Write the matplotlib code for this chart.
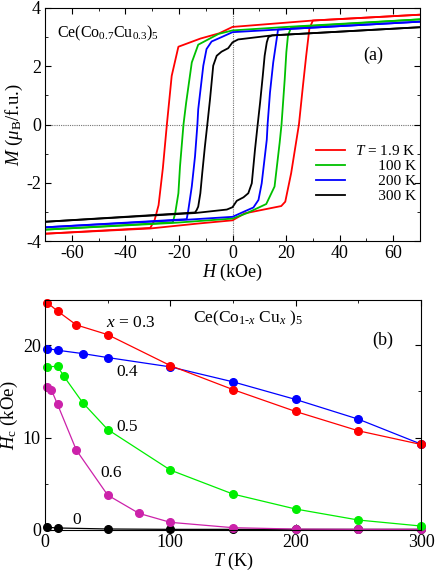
import numpy as np
import matplotlib
matplotlib.use("Agg")
import matplotlib.pyplot as plt
from matplotlib.ticker import MultipleLocator

plt.rcParams['font.family'] = ['Liberation Serif', 'DejaVu Serif']
plt.rcParams['mathtext.fontset'] = 'custom'
plt.rcParams['mathtext.rm'] = 'Liberation Serif'
plt.rcParams['mathtext.it'] = 'Liberation Serif:italic'
plt.rcParams['axes.unicode_minus'] = False
plt.rcParams['font.size'] = 12

# ─── (a) lazos M(H), x = 0.3 ────────────────────────────────────────────────
# rama descendente (H de +70 a -70) y rama ascendente (H de -70 a +70)
H_bajada_19 = [70, 30, 0, -5, -12, -20.2, -22.7, -24.5, -26.0, -27.6, -29.1, -30.7, -70]
M_bajada_19 = [3.77, 3.57, 3.35, 3.13, 2.95, 2.67, 1.67, 0.0, -1.5, -2.77, -3.29, -3.55, -3.75]
H_subida_19 = [-70, -30.7, -12.8, 0, 4.6, 18.2, 19.7, 21.9, 24.8, 26.3, 27.5, 28.7, 30.0, 70]
M_subida_19 = [-3.75, -3.57, -3.40, -3.29, -3.05, -2.80, -2.65, -1.67, 0.0, 1.33, 2.35, 3.29, 3.57, 3.77]

H_bajada_100 = [70, 21.9, 0, -5.2, -12.8, -15.2, -17.3, -18.3, -19.6, -20.2, -21.4, -22.3, -70]
M_bajada_100 = [3.61, 3.36, 3.23, 3.11, 2.74, 2.13, 0.75, 0.0, -1.44, -2.36, -3.05, -3.36, -3.61]
H_subida_100 = [-70, -22.3, 0, 5.2, 12.6, 15.7, 17.6, 18.3, 19.5, 20.1, 20.7, 21.9, 70]
M_subida_100 = [-3.61, -3.38, -3.23, -3.05, -2.73, -2.13, -0.63, 0.0, 1.56, 2.48, 3.05, 3.34, 3.61]

H_bajada_200 = [70, 17.0, 0, -4.1, -7.8, -9.7, -10.9, -12.8, -13.1, -14.0, -15.2, -16.5, -17.1, -70]
M_bajada_200 = [3.53, 3.26, 3.17, 3.00, 2.85, 2.59, 2.02, 0.52, 0.0, -1.10, -2.13, -2.94, -3.25, -3.53]
H_subida_200 = [-70, -17.1, 0, 4.1, 7.8, 9.7, 10.9, 12.8, 13.1, 14.0, 15.2, 16.5, 17.0, 70]
M_subida_200 = [-3.53, -3.27, -3.17, -3.00, -2.85, -2.59, -2.02, -0.52, 0.0, 1.10, 2.13, 2.94, 3.26, 3.53]

H_bajada_300 = [70, 14.8, 2.1, 0, -1.6, -4.1, -5.9, -7.2, -8.4, -9.4, -10.3, -11.3, -12.0, -12.8, -13.4, -14.0, -70]
M_bajada_300 = [3.34, 3.06, 2.92, 2.82, 2.62, 2.50, 2.36, 2.02, 0.86, 0.0, -0.75, -1.67, -2.36, -2.82, -2.94, -3.02, -3.34]
H_subida_300 = [-70, -14.0, -2.1, 0, 1.6, 4.1, 5.9, 7.2, 8.4, 9.4, 10.3, 11.3, 12.0, 12.8, 13.4, 14.8, 70]
M_subida_300 = [-3.34, -3.04, -2.92, -2.84, -2.62, -2.50, -2.36, -2.02, -0.86, 0.0, 0.75, 1.67, 2.36, 2.82, 3.00, 3.06, 3.34]

lazos = [
    ("$T$ = 1.9 K", "#ff0000", H_bajada_19, M_bajada_19, H_subida_19, M_subida_19),
    ("      100 K", "#00c000", H_bajada_100, M_bajada_100, H_subida_100, M_subida_100),
    ("      200 K", "#0000ff", H_bajada_200, M_bajada_200, H_subida_200, M_subida_200),
    ("      300 K", "#000000", H_bajada_300, M_bajada_300, H_subida_300, M_subida_300),
]

# ─── (b) campo coercitivo Hc(T) ─────────────────────────────────────────────
T_03 = [1.9, 10, 25, 50, 100, 150, 200, 250, 300]
Hc_03 = [24.6, 23.7, 22.2, 21.15, 17.8, 15.2, 12.83, 10.74, 9.26]
T_04 = [1.9, 10, 30, 50, 100, 150, 200, 250, 300]
Hc_04 = [19.64, 19.46, 19.1, 18.67, 17.66, 16.04, 14.13, 12.0, 9.3]
T_05 = [1.9, 10, 15, 30, 50, 100, 150, 200, 250, 300]
Hc_05 = [17.66, 17.73, 16.65, 13.8, 10.88, 6.49, 3.89, 2.27, 1.08, 0.43]
T_06 = [1.9, 5, 10, 25, 50, 75, 100, 150, 200, 250, 300]
Hc_06 = [15.5, 15.2, 13.6, 8.65, 3.78, 1.8, 0.83, 0.25, 0.1, 0.07, 0.07]
T_00 = [1.9, 10, 50, 100, 150, 200, 250, 300]
Hc_00 = [0.29, 0.22, 0.11, 0.07, 0.07, 0.07, 0.07, 0.07]

series_b = [
    (T_00, Hc_00, "#000000"),
    (T_06, Hc_06, "#cc22aa"),
    (T_05, Hc_05, "#00ee00"),
    (T_04, Hc_04, "#0000ff"),
    (T_03, Hc_03, "#ff0000"),
]


def estilo_ejes(ax):
    ax.tick_params(direction="in", which="both", top=True, right=True,
                   labelsize=13, pad=3)
    ax.tick_params(which="major", length=4.5)
    ax.tick_params(which="minor", length=2.5)


fig = plt.figure(figsize=(4.36, 5.79), dpi=100)

# panel (a)
ax1 = fig.add_axes([45 / 436, 1 - 241 / 579, 375 / 436, 233 / 579])
for etiqueta, color, hb, mb, hs, ms in lazos:
    ax1.plot(hb, mb, color=color, lw=1.3, label=etiqueta)
    ax1.plot(hs, ms, color=color, lw=1.3)
ax1.axhline(0, color="0.45", lw=0.8, ls=(0, (1, 1)), zorder=0)
ax1.axvline(0, color="0.45", lw=0.8, ls=(0, (1, 1)), zorder=0)
ax1.set_xlim(-70, 70)
ax1.set_ylim(-4, 4)
ax1.xaxis.set_major_locator(MultipleLocator(20))
ax1.xaxis.set_minor_locator(MultipleLocator(10))
ax1.yaxis.set_major_locator(MultipleLocator(2))
ax1.yaxis.set_minor_locator(MultipleLocator(1))
estilo_ejes(ax1)
ax1.set_xlabel("$H$ (kOe)", fontsize=13, labelpad=0)
ax1.set_ylabel(r"$M$ ($\mu_\mathrm{B}$/f.u.)", fontsize=13.5, labelpad=1)
ax1.text(0.032, 0.893, r"Ce(Co$_{0.7}$Cu$_{0.3}$)$_5$", transform=ax1.transAxes,
         fontsize=11.5, va="center")
ax1.text(0.848, 0.798, "(a)", transform=ax1.transAxes, fontsize=13, va="center")
ax1.legend(loc="upper left", bbox_to_anchor=(0.707, 0.442), borderaxespad=0,
           frameon=False, fontsize=11, handlelength=1.9, handletextpad=0.65,
           labelspacing=0.08)

# panel (b)
ax2 = fig.add_axes([45 / 436, 1 - 530 / 579, 376 / 436, 230 / 579])
for t, hc, color in series_b:
    ax2.plot(t, hc, color=color, lw=0.9, marker="o", ms=5.5, mec=color,
             mfc=color, clip_on=False)
ax2.set_xlim(0, 300)
ax2.set_ylim(0, 24.9)
ax2.xaxis.set_major_locator(MultipleLocator(100))
ax2.xaxis.set_minor_locator(MultipleLocator(50))
ax2.yaxis.set_major_locator(MultipleLocator(10))
ax2.yaxis.set_minor_locator(MultipleLocator(5))
estilo_ejes(ax2)
ax2.set_xlabel("$T$ (K)", fontsize=13, labelpad=0)
ax2.set_ylabel("$H_\\mathrm{c}$ (kOe)", fontsize=13.5, labelpad=2)
ax2.text(0.394, 0.92, r"Ce(Co$_{1\text{-}x}$ Cu$_x$ )$_5$", transform=ax2.transAxes,
         fontsize=12.5, va="center")
ax2.text(0.87, 0.826, "(b)", transform=ax2.transAxes, fontsize=13, va="center")
ax2.text(0.162, 0.90, "$x$ = 0.3", transform=ax2.transAxes, fontsize=12.5, va="center")
ax2.text(0.191, 0.687, "0.4", transform=ax2.transAxes, fontsize=12.5, va="center")
ax2.text(0.191, 0.448, "0.5", transform=ax2.transAxes, fontsize=12.5, va="center")
ax2.text(0.146, 0.248, "0.6", transform=ax2.transAxes, fontsize=12.5, va="center")
ax2.text(0.074, 0.043, "0", transform=ax2.transAxes, fontsize=12.5, va="center")

fig.savefig("out.png", dpi=100)
